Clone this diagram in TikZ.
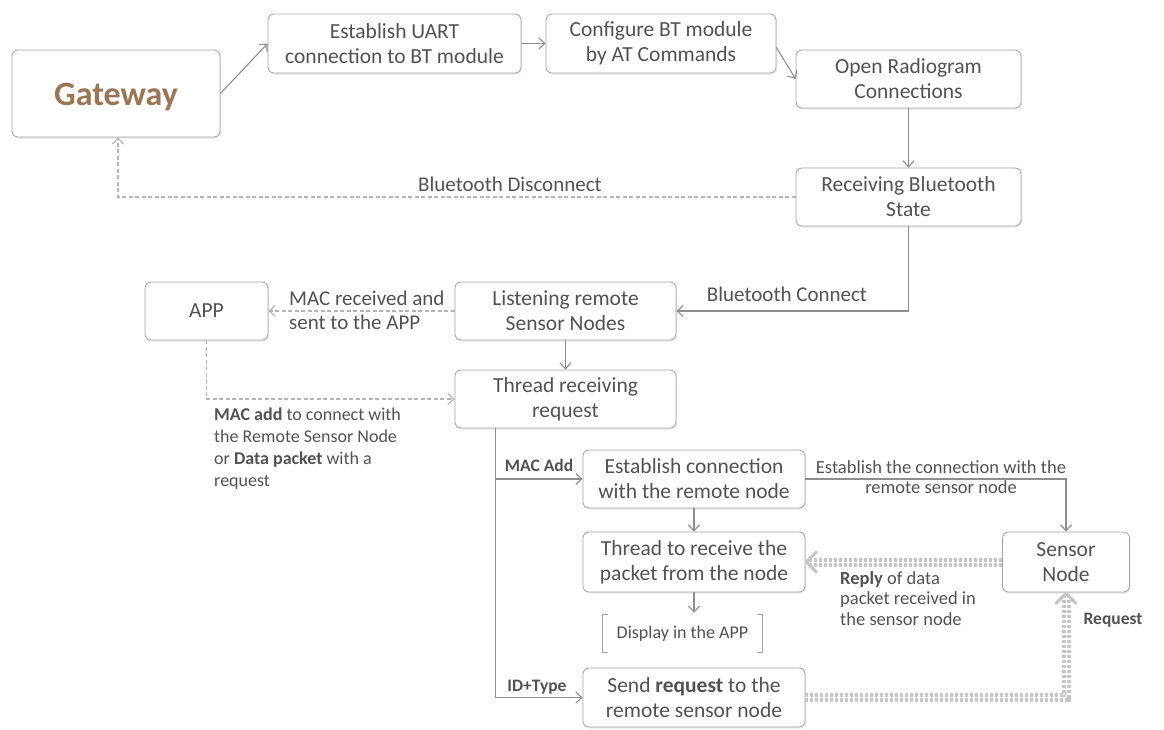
\documentclass[tikz,border=0pt]{standalone}
\usepackage{fontspec}
\setmainfont{Carlito}
\usetikzlibrary{arrows.meta,shadows}
\definecolor{boxline}{HTML}{A3A3A3}
\definecolor{flow}{HTML}{8E8E8E}
\definecolor{softline}{HTML}{B4B4B4}
\definecolor{paleline}{HTML}{C6C6C6}
\definecolor{ink}{HTML}{525252}
\definecolor{gwbrown}{HTML}{9A7655}
\begin{document}
\begin{tikzpicture}[x=1pt,y=-1pt,
  box/.style={draw=boxline, line width=0.8pt, rounded corners=6pt, fill=white,
    text=ink, align=center, inner sep=0pt,
    font=\fontsize{21.5}{25}\selectfont,
    drop shadow={opacity=0.18, shadow xshift=1pt, shadow yshift=-1.5pt}},
  flowarrow/.style={draw=flow, line width=1.1pt, -{Straight Barb[length=6pt,width=11pt,line width=1.1pt]}},
  flowline/.style={draw=flow, line width=1.1pt},
  dasharrow/.style={draw=softline, line width=1.1pt, dash pattern=on 4pt off 2.5pt,
    -{Straight Barb[length=6pt,width=11pt,line width=1.1pt]}},
  pairdash/.style={draw=paleline, line width=4pt, double=white, double distance=1pt,
    dash pattern=on 3pt off 2pt},
  bigtip/.style={draw=paleline, line width=3.2pt, line cap=round, line join=round},
  lbl/.style={text=ink, inner sep=0pt, align=center},
  tag/.style={text=ink, inner sep=0pt, font=\fontsize{17.5}{20}\selectfont\bfseries}
]
\useasboundingbox (0,0) rectangle (1164,729);

% process boxes
\node[box, minimum width=208, minimum height=87,
      label={[text=gwbrown, inner sep=0pt, yshift=-4pt,
              font=\fontsize{34}{38}\selectfont\bfseries]center:Gateway}] (gw) at (116,93.5) {};
\node[box, minimum width=253, minimum height=59] (uart) at (394.5,43.5) {Establish UART\\connection to BT module};
\node[box, minimum width=230, minimum height=59] (conf) at (661,43.5) {Configure BT module\\by AT Commands};
\node[box, minimum width=225, minimum height=58] (radio) at (908.5,79) {Open Radiogram\\Connections};
\node[box, minimum width=225, minimum height=58] (recv) at (908.5,197) {Receiving Bluetooth\\State};
\node[box, minimum width=123, minimum height=58] (app) at (206.5,311) {APP};
\node[box, minimum width=221, minimum height=58] (listen) at (565.5,311) {Listening remote\\Sensor Nodes};
\node[box, minimum width=221, minimum height=58] (thread) at (565.5,399) {Thread receiving\\request};
\node[box, minimum width=222, minimum height=58] (estab) at (694,479) {Establish connection\\with the remote node};
\node[box, minimum width=222, minimum height=60] (trecv) at (694,562) {Thread to receive the\\packet from the node};
\node[box, minimum width=222, minimum height=59] (send) at (694,697.5) {Send \textbf{request} to the\\remote sensor node};
\node[box, minimum width=127, minimum height=60] (sensor) at (1066,562) {Sensor\\Node};

% bracketed note
\node[lbl, font=\fontsize{18}{21}\selectfont, minimum width=159, minimum height=37] (disp) at (682.5,633.5) {Display in the APP};
\draw[draw=boxline, line width=0.9pt]
  ([xshift=5pt]disp.north west) -- (disp.north west) -- (disp.south west) -- ([xshift=5pt]disp.south west)
  ([xshift=-5pt]disp.north east) -- (disp.north east) -- (disp.south east) -- ([xshift=-5pt]disp.south east);

% main flow
\draw[flowarrow] (gw.east) -- (uart.west);
\draw[flowarrow] (uart.east) -- (conf.west);
\draw[flowarrow] ([yshift=-4pt]conf.east) -- (radio.west);
\draw[flowarrow] (radio.south) -- (recv.north);
\draw[dasharrow] (recv.west) -| ([xshift=2pt]gw.south);
\draw[flowarrow] (recv.south) |- (listen.east);
\draw[dasharrow] (listen.west) -- (app.east);
\draw[flowarrow] (listen.south) -- (thread.north);
\draw[dasharrow] (app.south) |- (thread.west);

% request dispatch
\coordinate (fork) at ([xshift=-70pt]thread.south);
\draw[flowline] (fork) -- (fork |- send.west);
\draw[flowarrow] (fork |- estab.west) -- (estab.west);
\draw[flowarrow] (fork |- send.west) -- (send.west);
\draw[flowarrow] (estab.east) -| (sensor.north);
\draw[flowarrow] (estab.south) -- (trecv.north);
\draw[flowarrow] (trecv.south) -- ([yshift=2pt]trecv.south |- disp.north);

% sensor node exchange
\draw[pairdash] (sensor.west) -- ([xshift=4pt]trecv.east);
\draw[bigtip] ([shift={(11pt,-10pt)}]trecv.east) -- ([xshift=1pt]trecv.east) -- ([shift={(11pt,10pt)}]trecv.east);
\draw[pairdash] (send.east) -| ([yshift=-4pt]sensor.south);
\draw[bigtip] ([shift={(-10pt,-11pt)}]sensor.south) -- ([yshift=-1pt]sensor.south) -- ([shift={(10pt,-11pt)}]sensor.south);

% connector labels
\node[lbl, font=\fontsize{21}{24}\selectfont] (lbdis) at (510,184) {Bluetooth Disconnect};
\node[lbl, font=\fontsize{21}{24}\selectfont] (lbcon) at (787,294) {Bluetooth Connect};
\node[lbl, align=left, anchor=west, font=\fontsize{21}{23.5}\selectfont] (lbmac) at (289,310.5) {MAC received and\\sent to the APP};
\node[lbl, align=left, anchor=north west, font=\fontsize{18}{22}\selectfont] (lbreq) at (214,408)
  {\textbf{MAC add} to connect with\\the Remote Sensor Node\\or \textbf{Data packet} with a\\request};
\node[tag] (tmac) at (539,465) {MAC Add};
\node[tag] (tid) at (537,687) {ID+Type};
\node[lbl, font=\fontsize{18.5}{20.5}\selectfont] (lbest) at (941,477) {Establish the connection with the\\remote sensor node};
\node[lbl, align=left, anchor=north west, font=\fontsize{18.5}{20.5}\selectfont] (lbrep) at (840,571)
  {\textbf{Reply} of data\\packet received in\\the sensor node};
\node[tag] (treq) at (1113,620) {Request};
\end{tikzpicture}
\end{document}
